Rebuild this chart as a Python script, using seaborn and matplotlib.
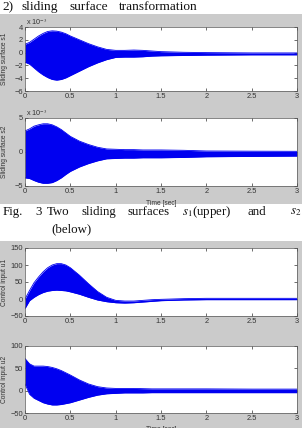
import matplotlib
matplotlib.use("Agg")
import matplotlib.pyplot as plt
import seaborn as sns
import numpy as np
from matplotlib.patches import Rectangle

t = [0, 0.05, 0.1, 0.15, 0.2, 0.25, 0.3, 0.35, 0.4, 0.45, 0.5, 0.6, 0.7, 0.8,
     0.9, 1.0, 1.1, 1.2, 1.3, 1.4, 1.5, 1.75, 2.0, 2.5, 3.0]

# sliding surface s1 envelope (x 1e-3)
s1_upper = [1.3, 1.6, 2.1, 2.6, 3.0, 3.3, 3.4, 3.35, 3.2, 2.95, 2.6, 2.0, 1.4, 0.9,
            0.5, 0.35, 0.35, 0.4, 0.35, 0.25, 0.15, 0.05, 0.0, -0.05, -0.05]
s1_lower = [-1.5, -1.8, -2.4, -3.0, -3.5, -3.9, -4.2, -4.3, -4.2, -3.95, -3.6, -2.9, -2.2, -1.6,
            -1.1, -0.75, -0.7, -0.7, -0.65, -0.55, -0.5, -0.45, -0.4, -0.35, -0.35]

# sliding surface s2 envelope (x 1e-3)
s2_upper = [3.1, 3.4, 3.8, 4.0, 4.15, 4.15, 4.0, 3.7, 3.3, 2.8, 2.3, 1.6, 1.1, 0.7,
            0.45, 0.4, 0.35, 0.35, 0.3, 0.3, 0.3, 0.25, 0.15, 0.12, 0.1]
s2_lower = [-3.8, -3.9, -4.2, -4.45, -4.6, -4.6, -4.5, -4.2, -3.8, -3.3, -2.85, -2.2, -1.7, -1.3,
            -1.0, -0.95, -0.9, -0.9, -0.85, -0.85, -0.85, -0.8, -0.7, -0.65, -0.6]

# control input u1 envelope
u1_upper = [0, 25, 48, 65, 80, 92, 100, 104, 104, 100, 92, 70, 45, 22,
            5, -4, -6, -6, -4, -2, -1, 1, 2, 2, 2]
u1_lower = [-28, -5, 5, 13, 19, 23, 25, 26, 25, 24, 21, 14, 5, -3,
            -8, -11, -12, -11, -9, -7, -5, -3, -2, -2, -2]

# control input u2 envelope
u2_upper = [72, 60, 55, 55, 55, 54, 52, 49, 45, 40, 35, 24, 15, 9,
            6, 5, 5, 5, 4.5, 4, 4, 4, 4, 3.5, 3.5]
u2_lower = [15, -8, -17, -22, -27, -30, -32, -32, -31, -29, -27, -21, -15, -10,
            -7, -6, -5, -5, -5, -4.5, -4.5, -4.5, -4.5, -4.5, -4.5]

xticks = [0, 0.5, 1, 1.5, 2, 2.5, 3]
xticklabels = ["0", "0.5", "1", "1.5", "2", "2.5", "3"]

W, H = 302, 428
BLUE = "#0000f0"
GREY = "#cbcbcb"

sns.set_style("ticks")
plt.rcParams["font.family"] = ["Liberation Sans", "DejaVu Sans"]
plt.rcParams["mathtext.fontset"] = "stix"


def px_box(x0, y0, x1, y1):
    # pixel box (top-left origin) -> figure fraction rect
    return [x0 / W, 1 - y1 / H, (x1 - x0) / W, (y1 - y0) / H]


def draw_band(ax, upper, lower, ylim, yticks, ylabel, xlabel=None):
    ax.fill_between(t, lower, upper, color=BLUE, lw=0)
    sns.lineplot(x=t, y=upper, ax=ax, color=BLUE, lw=0.6)
    sns.lineplot(x=t, y=lower, ax=ax, color=BLUE, lw=0.6)
    ax.set_xlim(0, 3)
    ax.set_ylim(*ylim)
    ax.set_xticks(xticks)
    ax.set_xticklabels(xticklabels)
    ax.set_yticks(yticks)
    ax.set_facecolor("white")
    ax.tick_params(direction="in", length=2, width=0.5, top=True, right=True,
                   labelsize=5.4, colors="#333333", pad=1.5)
    for sp in ax.spines.values():
        sp.set_linewidth(0.5)
        sp.set_color("#555555")
    ax.set_ylabel(ylabel, fontsize=4.8, color="#333333")
    ax.yaxis.set_label_coords(-0.062, 0.5)
    if xlabel:
        ax.set_xlabel(xlabel, fontsize=4.8, color="#333333")
        ax.xaxis.set_label_coords(0.5, -0.2)


fig = plt.figure(figsize=(W / 100, H / 100), dpi=100)
fig.patch.set_facecolor("white")

# grey MATLAB figure panels, drawn behind the axes
fig.patches.append(Rectangle((0, 1 - 204 / H), 1, 190 / H, transform=fig.transFigure,
                             facecolor=GREY, edgecolor="none", zorder=-10))
fig.patches.append(Rectangle((0, 0), 1, 187 / H, transform=fig.transFigure,
                             facecolor=GREY, edgecolor="none", zorder=-10))

ax1 = fig.add_axes(px_box(25, 27, 297, 91))
draw_band(ax1, s1_upper, s1_lower, (-6, 4), [-6, -4, -2, 0, 2, 4], "Sliding surface s1")
ax1.text(0.005, 1.03, r"x 10$^{-3}$", transform=ax1.transAxes, fontsize=5.2, color="#333333")

ax2 = fig.add_axes(px_box(25, 118, 297, 186))
draw_band(ax2, s2_upper, s2_lower, (-5, 5), [-5, 0, 5], "Sliding surface s2", "Time [sec]")
ax2.text(0.005, 1.03, r"x 10$^{-3}$", transform=ax2.transAxes, fontsize=5.2, color="#333333")

ax3 = fig.add_axes(px_box(25, 248, 297, 316))
draw_band(ax3, u1_upper, u1_lower, (-50, 150), [-50, 0, 50, 100, 150], "Control input u1")

ax4 = fig.add_axes(px_box(25, 346, 297, 413))
draw_band(ax4, u2_upper, u2_lower, (-50, 100), [-50, 0, 50, 100], "Control input u2", "Time [sec]")

# page text around the figures (serif, justified look)
serif = ["Liberation Serif", "DejaVu Serif"]
for word, x in [("2)", 2), ("sliding", 21), ("surface", 70), ("transformation", 119)]:
    fig.text(x / W, 1 - 7 / H, word, fontsize=9.6, family=serif, va="center", color="#111111")

caption = [("Fig.", 3), ("3", 35), ("Two", 47), ("sliding", 82), ("surfaces", 128),
           (r"$s_1$(upper)", 182), ("and", 248), (r"$s_2$", 290)]
for word, x in caption:
    fig.text(x / W, 1 - 212 / H, word, fontsize=9.3, family=serif, va="center", color="#111111")
fig.text(51 / W, 1 - 229 / H, "(below)", fontsize=9.3, family=serif, va="center", color="#111111")

fig.savefig("out.png", dpi=100)
